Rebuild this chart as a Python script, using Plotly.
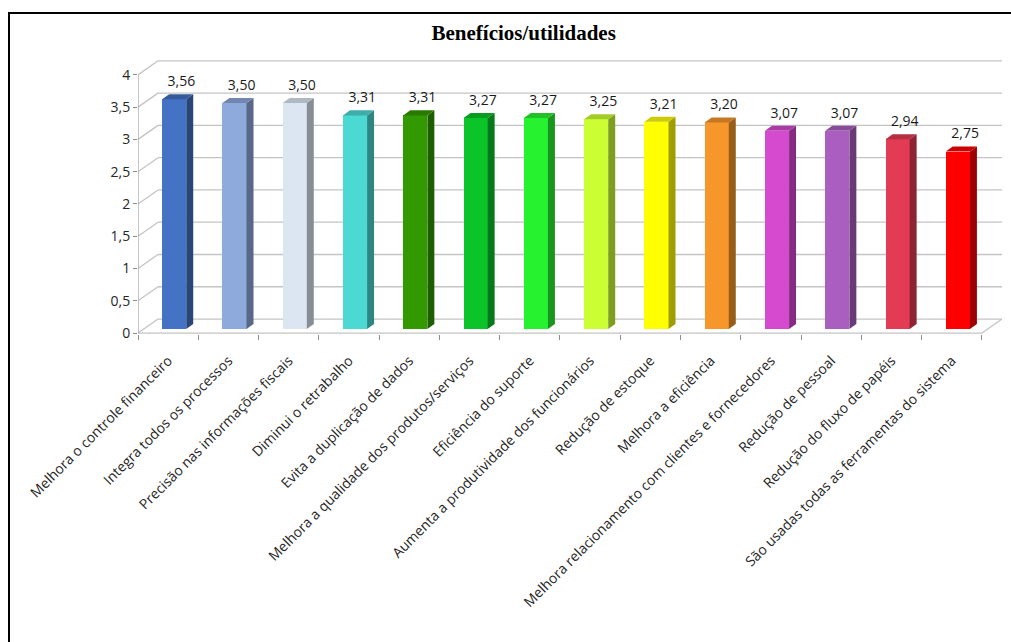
import plotly.graph_objects as go

categories = [
    "Melhora o controle financeiro",
    "Integra todos os processos",
    "Precisão nas informações fiscais",
    "Diminui o retrabalho",
    "Evita a duplicação de dados",
    "Melhora a qualidade dos produtos/serviços",
    "Eficiência do suporte",
    "Aumenta a produtividade dos funcionários",
    "Redução de estoque",
    "Melhora a eficiência",
    "Melhora relacionamento com clientes e fornecedores",
    "Redução de pessoal",
    "Redução do fluxo de papéis",
    "São usadas todas as ferramentas do sistema",
]
values = [3.56, 3.50, 3.50, 3.31, 3.31, 3.27, 3.27, 3.25, 3.21, 3.20, 3.07, 3.07, 2.94, 2.75]
value_labels = ["3,56", "3,50", "3,50", "3,31", "3,31", "3,27", "3,27", "3,25", "3,21", "3,20", "3,07", "3,07", "2,94", "2,75"]
front_colors = ["#4472C4", "#8EA9DB", "#DCE6F2", "#4BD9D3", "#339900", "#0BC42A", "#27F22F",
                "#CCFF33", "#FFFF00", "#F7962A", "#D64ACF", "#A95EC0", "#E23B53", "#FF0000"]
y_ticks = [0, 0.5, 1, 1.5, 2, 2.5, 3, 3.5, 4]
y_ticktext = ["0", "0,5", "1", "1,5", "2", "2,5", "3", "3,5", "4"]
title_text = "Benefícios/utilidades"


def shade(hex_color, f):
    h = hex_color.lstrip("#")
    r, g, b = (int(h[i:i + 2], 16) for i in (0, 2, 4))
    return "rgb({},{},{})".format(int(r * f), int(g * f), int(b * f))


# 3D geometry (in data units)
n = len(categories)
x_pos = list(range(n))
wall_dx, wall_dy = 0.332, 0.217      # depth offset of back wall
bar_shift_x, bar_shift_y = 0.10, 0.062  # bar front face depth
bar_w = 0.40
bar_dx, bar_dy = 0.116, 0.078        # bar depth
label_dx, label_dy = 0.12, 0.07
x_lo, x_hi = -0.5, n - 0.5
grid_col = "#C4C4C4"
axis_col = "#8C8C8C"
font_fam = "Open Sans"

fig = go.Figure()

# front faces
fig.add_trace(go.Bar(
    x=[x + bar_shift_x for x in x_pos], y=values, base=bar_shift_y, width=bar_w,
    marker=dict(color=front_colors, line=dict(width=0)), showlegend=False, hoverinfo="skip"))

# side and top faces
for x, v, c in zip(x_pos, values, front_colors):
    xl = x + bar_shift_x - bar_w / 2
    xr = x + bar_shift_x + bar_w / 2
    yb = bar_shift_y
    yt = bar_shift_y + v
    fig.add_trace(go.Scatter(
        x=[xr, xr + bar_dx, xr + bar_dx, xr, xr],
        y=[yb, yb + bar_dy, yt + bar_dy, yt, yb],
        fill="toself", fillcolor=shade(c, 0.62), mode="lines", line=dict(width=0),
        showlegend=False, hoverinfo="skip"))
    fig.add_trace(go.Scatter(
        x=[xl, xl + bar_dx, xr + bar_dx, xr, xl],
        y=[yt, yt + bar_dy, yt + bar_dy, yt, yt],
        fill="toself", fillcolor=shade(c, 0.8), mode="lines", line=dict(width=0),
        showlegend=False, hoverinfo="skip"))

# value labels
fig.add_trace(go.Scatter(
    x=[x + bar_shift_x + label_dx for x in x_pos],
    y=[v + bar_shift_y + bar_dy + label_dy for v in values],
    mode="text", text=value_labels, textposition="top center",
    textfont=dict(family=font_fam, size=14, color="#1a1a1a"),
    showlegend=False, hoverinfo="skip", cliponaxis=False))

shapes = []
for t in y_ticks:
    shapes.append(dict(type="line", xref="x", yref="y", layer="below",
                       x0=x_lo, y0=t, x1=x_lo + wall_dx, y1=t + wall_dy,
                       line=dict(color=grid_col, width=1.3)))
    shapes.append(dict(type="line", xref="x", yref="y", layer="below",
                       x0=x_lo + wall_dx, y0=t + wall_dy, x1=x_hi + wall_dx, y1=t + wall_dy,
                       line=dict(color=grid_col, width=1.3)))
# floor edges
shapes.append(dict(type="line", xref="x", yref="y", layer="below",
                   x0=x_lo, y0=0, x1=x_hi, y1=0, line=dict(color=grid_col, width=1.3)))
shapes.append(dict(type="line", xref="x", yref="y", layer="below",
                   x0=x_hi, y0=0, x1=x_hi + wall_dx, y1=wall_dy, line=dict(color=grid_col, width=1.3)))
# vertical axis line
shapes.append(dict(type="line", xref="x", yref="y", layer="below",
                   x0=x_lo, y0=0, x1=x_lo, y1=y_ticks[-1], line=dict(color=axis_col, width=1)))
# outer frame
shapes.append(dict(type="rect", xref="paper", yref="paper",
                   x0=-0.1493, y0=-1.2, x1=1.04, y1=1.1715,
                   line=dict(color="black", width=2), fillcolor="rgba(0,0,0,0)"))

fig.update_layout(
    width=1011, height=642,
    margin=dict(l=138, r=9, t=60, b=308),
    paper_bgcolor="white", plot_bgcolor="white",
    shapes=shapes,
    bargap=0,
    title=dict(text="<b>" + title_text + "</b>", x=0.518, xanchor="center",
               y=1 - 33 / 642, yref="container", yanchor="middle",
               font=dict(family="Liberation Serif", size=21, color="black")),
    xaxis=dict(range=[x_lo, x_hi + wall_dx], tickmode="array", tickvals=x_pos, ticktext=categories,
               tickangle=-45, ticks="outside", ticklen=0, showgrid=False, zeroline=False, showline=False,
               ticklabelstandoff=12,
               tickfont=dict(family=font_fam, size=14, color="#262626"),
               minor=dict(tickmode="array", tickvals=[x_lo + k for k in range(n + 1)],
                          ticks="outside", ticklen=5, tickcolor=axis_col, showgrid=False)),
    yaxis=dict(range=[-0.015, 4.23], tickmode="array", tickvals=y_ticks, ticktext=y_ticktext,
               ticks="outside", ticklen=4, tickcolor=axis_col, showgrid=False, zeroline=False,
               showline=False, tickfont=dict(family=font_fam, size=14, color="#262626")),
)

fig.write_html("out.html")
